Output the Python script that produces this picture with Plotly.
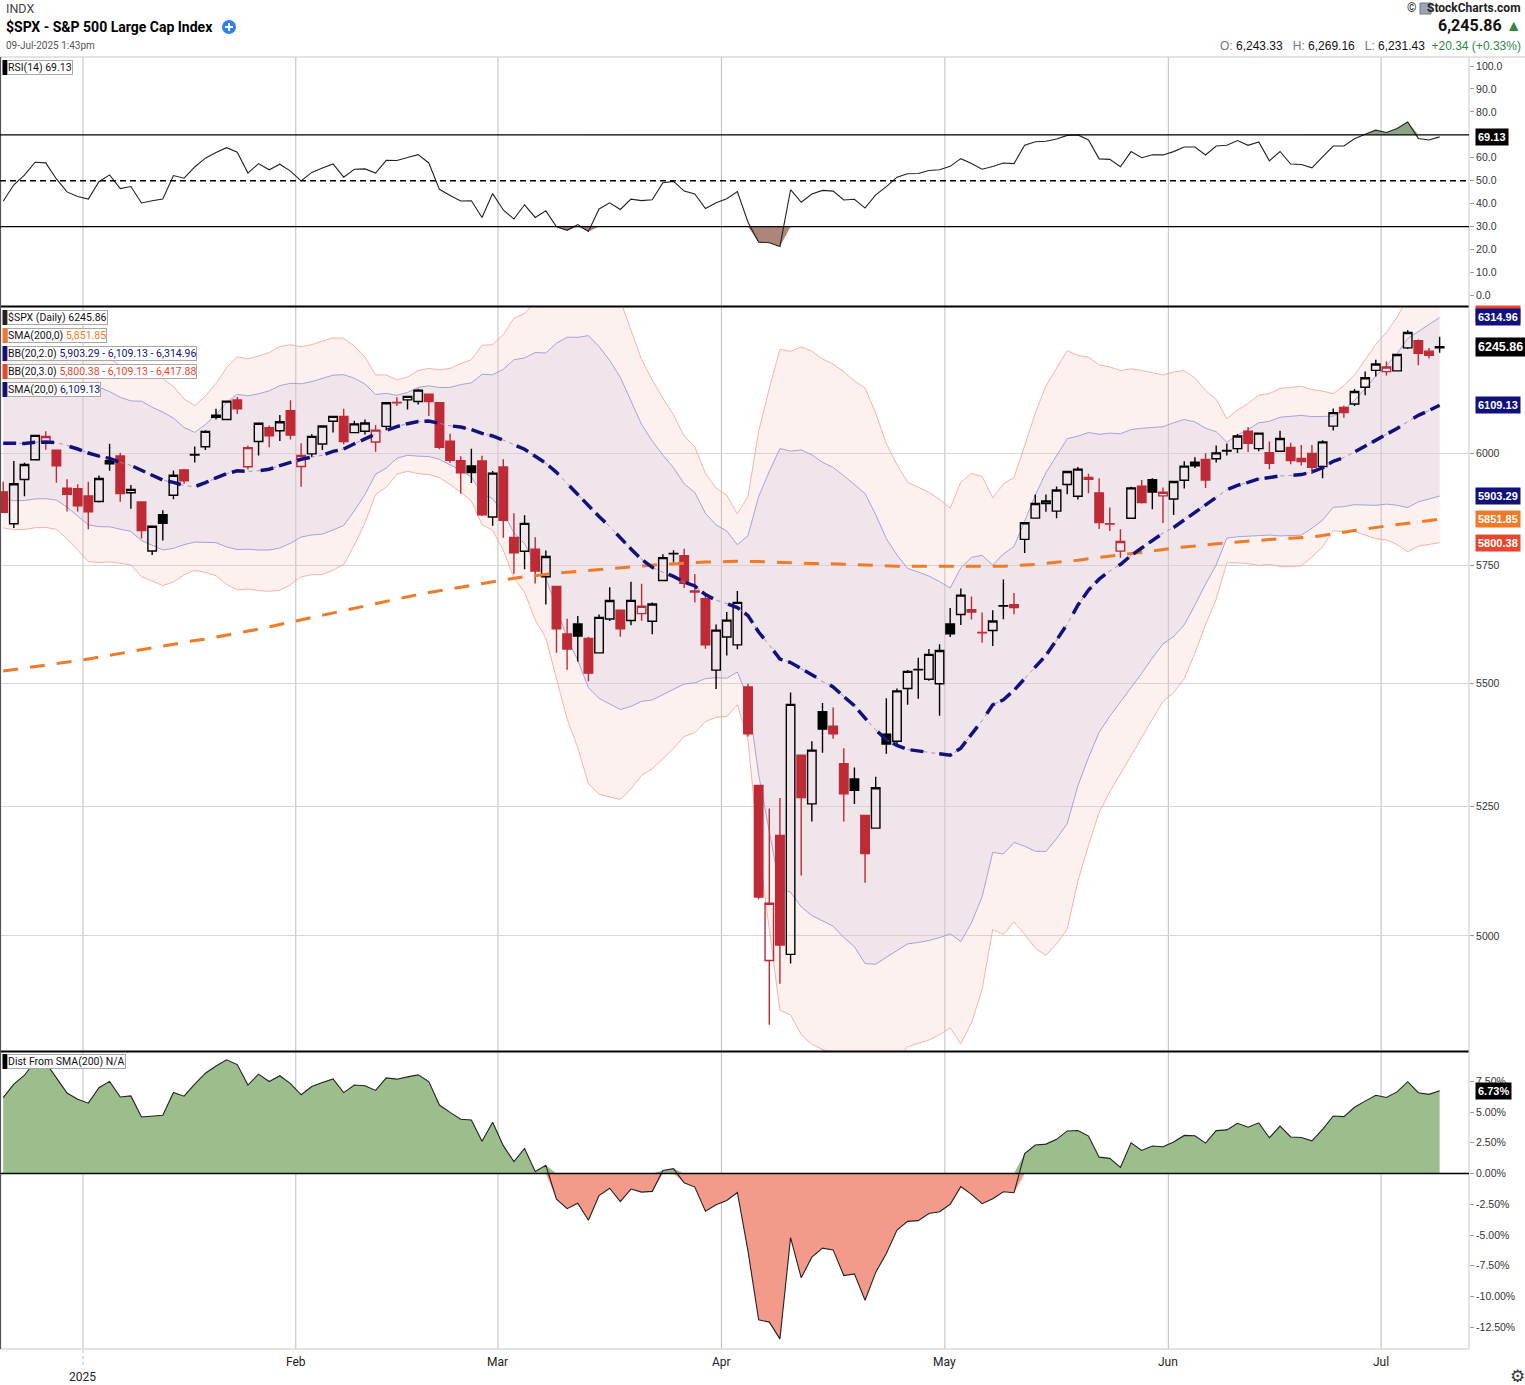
import math
import plotly.graph_objects as go

# ---------------- DATA ----------------
dates = [
    "2024-12-19", "2024-12-20", "2024-12-23", "2024-12-24", "2024-12-26", "2024-12-27", "2024-12-30", "2024-12-31",
    "2025-01-02", "2025-01-03", "2025-01-06", "2025-01-07", "2025-01-08", "2025-01-10", "2025-01-13", "2025-01-14",
    "2025-01-15", "2025-01-16", "2025-01-17", "2025-01-21", "2025-01-22", "2025-01-23", "2025-01-24", "2025-01-27",
    "2025-01-28", "2025-01-29", "2025-01-30", "2025-01-31",
    "2025-02-03", "2025-02-04", "2025-02-05", "2025-02-06", "2025-02-07", "2025-02-10", "2025-02-11", "2025-02-12",
    "2025-02-13", "2025-02-14", "2025-02-18", "2025-02-19", "2025-02-20", "2025-02-21", "2025-02-24", "2025-02-25",
    "2025-02-26", "2025-02-27", "2025-02-28",
    "2025-03-03", "2025-03-04", "2025-03-05", "2025-03-06", "2025-03-07", "2025-03-10", "2025-03-11", "2025-03-12",
    "2025-03-13", "2025-03-14", "2025-03-17", "2025-03-18", "2025-03-19", "2025-03-20", "2025-03-21", "2025-03-24",
    "2025-03-25", "2025-03-26", "2025-03-27", "2025-03-28", "2025-03-31",
    "2025-04-01", "2025-04-02", "2025-04-03", "2025-04-04", "2025-04-07", "2025-04-08", "2025-04-09", "2025-04-10",
    "2025-04-11", "2025-04-14", "2025-04-15", "2025-04-16", "2025-04-17", "2025-04-21", "2025-04-22", "2025-04-23",
    "2025-04-24", "2025-04-25", "2025-04-28", "2025-04-29", "2025-04-30",
    "2025-05-01", "2025-05-02", "2025-05-05", "2025-05-06", "2025-05-07", "2025-05-08", "2025-05-09", "2025-05-12",
    "2025-05-13", "2025-05-14", "2025-05-15", "2025-05-16", "2025-05-19", "2025-05-20", "2025-05-21", "2025-05-22",
    "2025-05-23", "2025-05-27", "2025-05-28", "2025-05-29", "2025-05-30",
    "2025-06-02", "2025-06-03", "2025-06-04", "2025-06-05", "2025-06-06", "2025-06-09", "2025-06-10", "2025-06-11",
    "2025-06-12", "2025-06-13", "2025-06-16", "2025-06-17", "2025-06-18", "2025-06-20", "2025-06-23", "2025-06-24",
    "2025-06-25", "2025-06-26", "2025-06-27", "2025-06-30",
    "2025-07-01", "2025-07-02", "2025-07-03", "2025-07-07", "2025-07-08", "2025-07-09",
]

opens = [
    5912.71, 5842.00, 5940.25, 5984.74, 6024.97, 6006.17, 5920.67, 5919.74,
    5903.26, 5891.07, 5982.81, 5993.26, 5910.66, 5890.02, 5782.23, 5862.00,
    5905.21, 5961.62, 5995.30, 6014.12, 6081.39, 6076.32, 6121.43, 5969.04,
    6026.01, 6057.70, 6050.75, 6096.79,
    5969.65, 5998.14, 6020.45, 6072.22, 6083.13, 6046.40, 6049.32, 6025.08,
    6060.59, 6115.52, 6121.60, 6117.76, 6134.50, 6114.82, 6026.69, 5982.73,
    5970.87, 5981.88, 5856.74,
    5968.33, 5811.98, 5781.39, 5785.87, 5726.01, 5705.37, 5603.65, 5624.84,
    5594.45, 5563.85, 5635.60, 5654.53, 5632.37, 5646.92, 5630.73, 5718.08,
    5775.86, 5771.66, 5695.64, 5679.00, 5527.91,
    5597.53, 5580.76, 5492.74, 5292.14, 4953.79, 5193.57, 4965.28, 5353.15,
    5255.56, 5441.96, 5411.99, 5335.75, 5305.45, 5232.94, 5207.67, 5395.92,
    5381.38, 5489.73, 5529.22, 5508.87, 5499.44,
    5625.14, 5645.03, 5655.32, 5606.26, 5611.00, 5663.08, 5666.00, 5807.48,
    5854.23, 5886.84, 5869.90, 5929.09, 5902.88, 5944.66, 5910.00, 5841.26,
    5781.89, 5854.07, 5925.54, 5939.92, 5903.67,
    5896.68, 5938.56, 5978.94, 5985.67, 5987.06, 6004.60, 6009.91, 6049.38,
    6009.90, 6000.56, 6004.00, 6012.35, 5987.93, 5999.00, 5969.67, 6061.21,
    6104.24, 6112.10, 6150.70, 6190.00,
    6187.25, 6188.88, 6243.00, 6259.75, 6235.26, 6243.33,
]

highs = [
    5935.52, 5982.06, 5978.25, 6040.10, 6049.75, 6006.17, 5940.79, 5929.74,
    5935.09, 5949.34, 6021.04, 6000.68, 5927.89, 5890.30, 5838.03, 5871.92,
    5960.61, 5964.69, 6014.96, 6051.51, 6100.81, 6118.73, 6128.18, 6017.17,
    6069.09, 6062.83, 6086.64, 6120.91,
    6022.13, 6042.48, 6062.86, 6084.03, 6101.28, 6073.38, 6076.28, 6063.65,
    6116.91, 6127.47, 6129.63, 6147.43, 6134.50, 6114.82, 6043.65, 5992.65,
    6009.82, 5993.69, 5959.40,
    5986.09, 5865.08, 5860.59, 5812.08, 5783.01, 5705.37, 5636.30, 5642.19,
    5597.78, 5645.27, 5703.52, 5654.53, 5715.33, 5711.15, 5670.84, 5775.14,
    5783.84, 5786.95, 5732.28, 5685.89, 5623.71,
    5650.57, 5695.31, 5499.53, 5292.14, 5246.68, 5267.47, 5481.34, 5353.15,
    5381.46, 5459.46, 5450.41, 5367.24, 5328.31, 5232.94, 5309.60, 5469.69,
    5489.40, 5528.11, 5553.66, 5571.95, 5581.84,
    5658.91, 5700.70, 5683.59, 5649.53, 5654.01, 5720.10, 5691.04, 5844.19,
    5906.63, 5906.48, 5924.57, 5958.62, 5968.61, 5953.06, 5943.00, 5878.08,
    5829.51, 5924.33, 5939.00, 5943.13, 5922.14,
    5937.40, 5981.35, 5990.48, 5999.70, 6016.87, 6021.31, 6043.01, 6059.40,
    6045.43, 6026.16, 6050.83, 6023.25, 6018.25, 6018.20, 6028.77, 6101.80,
    6108.51, 6146.52, 6187.68, 6215.08,
    6210.78, 6227.60, 6284.65, 6262.72, 6242.70, 6269.16,
]

lows = [
    5866.07, 5832.30, 5902.57, 5983.87, 6007.37, 5932.95, 5869.16, 5868.86,
    5829.53, 5888.66, 5960.01, 5890.68, 5874.78, 5809.43, 5773.31, 5805.28,
    5896.20, 5930.78, 5978.44, 6006.88, 6076.13, 6074.67, 6088.74, 5962.92,
    5994.19, 6012.96, 6027.46, 6030.93,
    5923.93, 5990.87, 6007.06, 6046.83, 6019.96, 6044.84, 6042.34, 6003.00,
    6051.64, 6107.62, 6099.51, 6111.15, 6084.59, 6008.56, 5977.83, 5908.49,
    5932.69, 5858.78, 5837.66,
    5810.91, 5732.59, 5742.35, 5711.64, 5666.29, 5564.02, 5528.41, 5546.09,
    5504.65, 5563.85, 5631.12, 5597.76, 5622.20, 5632.04, 5603.10, 5718.08,
    5757.19, 5701.72, 5670.94, 5572.42, 5488.73,
    5558.52, 5571.48, 5390.83, 5069.90, 4835.04, 4910.42, 4948.43, 5115.27,
    5220.77, 5358.02, 5386.44, 5220.79, 5255.58, 5101.63, 5207.67, 5356.14,
    5371.96, 5455.86, 5468.64, 5505.70, 5433.24,
    5597.35, 5622.71, 5634.48, 5585.25, 5578.64, 5635.22, 5645.50, 5777.59,
    5853.23, 5868.61, 5854.10, 5907.36, 5895.69, 5909.26, 5830.51, 5825.82,
    5767.41, 5854.07, 5886.64, 5873.80, 5843.66,
    5861.43, 5920.35, 5966.11, 5921.20, 5978.63, 5994.18, 6000.26, 6002.32,
    6003.88, 5963.21, 6004.00, 5974.80, 5971.89, 5952.56, 5943.23, 6051.15,
    6080.16, 6107.29, 6132.35, 6175.70,
    6177.97, 6188.29, 6240.00, 6201.82, 6217.98, 6231.43,
]

closes = [
    5867.08, 5930.85, 5974.07, 6040.04, 6037.59, 5970.84, 5906.94, 5881.63,
    5868.55, 5942.47, 5975.38, 5909.03, 5918.25, 5827.04, 5836.22, 5842.91,
    5949.91, 5937.34, 5996.66, 6049.24, 6086.37, 6118.71, 6101.24, 6012.28,
    6067.70, 6039.31, 6071.17, 6040.53,
    5994.57, 6037.88, 6061.48, 6083.57, 6025.99, 6066.44, 6068.50, 6051.97,
    6115.07, 6114.63, 6129.58, 6144.15, 6117.52, 6013.13, 5983.25, 5955.25,
    5956.06, 5861.57, 5954.50,
    5849.72, 5778.15, 5842.63, 5738.52, 5770.20, 5614.56, 5572.07, 5599.30,
    5521.52, 5638.94, 5675.12, 5614.66, 5675.29, 5662.89, 5667.56, 5767.57,
    5776.65, 5712.20, 5693.31, 5580.94, 5611.85,
    5633.07, 5670.97, 5396.52, 5074.08, 5062.25, 4982.77, 5456.90, 5268.05,
    5363.36, 5405.97, 5396.63, 5275.70, 5282.70, 5158.20, 5287.76, 5375.86,
    5484.77, 5525.21, 5528.75, 5560.83, 5569.06,
    5604.14, 5686.67, 5650.38, 5606.91, 5631.28, 5663.94, 5659.91, 5844.19,
    5886.55, 5892.58, 5916.93, 5958.38, 5963.60, 5940.46, 5844.61, 5842.01,
    5802.82, 5921.54, 5888.55, 5912.17, 5911.69,
    5935.94, 5970.37, 5970.81, 5939.30, 6000.36, 6005.88, 6038.81, 6022.24,
    6045.26, 5976.97, 6033.11, 5982.72, 5980.87, 5967.84, 6025.17, 6092.18,
    6092.16, 6141.02, 6173.07, 6204.95,
    6198.01, 6227.42, 6279.35, 6229.98, 6225.52, 6245.86,
]

# closes before the visible window (31-Oct-2024 .. 18-Dec-2024), only used as indicator look-back
warmup_closes = [
    5705.45, 5728.80, 5712.69, 5782.76, 5929.04, 5973.10, 5995.54, 6001.35, 5983.99, 5985.38,
    5949.17, 5870.62, 5893.62, 5916.98, 5917.11, 5948.71, 5969.34, 5987.37, 6021.63, 5998.74,
    6032.38, 6047.15, 6049.88, 6086.49, 6075.11, 6090.27, 6052.85, 6034.91, 6084.19, 6051.25,
    6051.09, 6074.08, 6050.61, 5872.16,
]

# SMA(200), one value per trading day
sma200 = [
    5526, 5529, 5532, 5535, 5538, 5541, 5544, 5547,
    5551, 5555, 5559, 5563, 5567, 5571, 5575, 5579, 5582, 5586, 5590, 5593,
    5597, 5601, 5605, 5609, 5614, 5619, 5624, 5629,
    5634, 5639, 5644, 5649, 5654, 5659, 5664, 5669, 5674, 5679, 5683, 5688,
    5692, 5696, 5700, 5704, 5708, 5712, 5716,
    5720, 5723, 5726, 5729, 5732, 5734, 5736, 5738, 5740, 5742, 5744, 5746,
    5748, 5750, 5751, 5753, 5754, 5756, 5757, 5758, 5758,
    5759, 5760, 5760, 5759, 5758, 5757, 5757, 5756, 5755, 5755, 5754, 5753,
    5752, 5751, 5750, 5750, 5749, 5749, 5749, 5748, 5748,
    5748, 5748, 5748, 5748, 5749, 5749, 5750, 5751, 5753, 5755, 5757, 5759,
    5762, 5765, 5768, 5771, 5774, 5777, 5780, 5783, 5786,
    5788, 5791, 5793, 5796, 5798, 5800, 5802, 5804, 5806, 5808, 5809, 5810,
    5811, 5813, 5816, 5820, 5823, 5827, 5830, 5834,
    5837, 5840, 5843, 5846, 5849, 5851.85,
]

rsi_ticks = [0, 10, 20, 30, 40, 50, 60, 80, 90, 100]
price_ticks = [5000, 5250, 5500, 5750, 6000]
dist_ticks = [-12.5, -10, -7.5, -5, -2.5, 0, 2.5, 5, 7.5]
month_names = {1: "2025", 2: "Feb", 3: "Mar", 4: "Apr", 5: "May", 6: "Jun", 7: "Jul"}

# ---------------- INDICATORS ----------------
N = len(closes)
xs = list(range(N))
allc = warmup_closes + closes
W = len(warmup_closes)

sma20, bbu2, bbl2, bbu3, bbl3 = [], [], [], [], []
for i in range(N):
    win = allc[W + i - 19: W + i + 1]
    m = sum(win) / 20.0
    sd = math.sqrt(sum((v - m) ** 2 for v in win) / 20.0)
    sma20.append(m)
    bbu2.append(m + 2 * sd); bbl2.append(m - 2 * sd)
    bbu3.append(m + 3 * sd); bbl3.append(m - 3 * sd)

chg = [allc[k] - allc[k - 1] for k in range(1, len(allc))]
ag = sum(max(c, 0) for c in chg[:14]) / 14.0
al = sum(max(-c, 0) for c in chg[:14]) / 14.0
rsi_all = [None] * len(allc)
rsi_all[14] = 100 - 100 / (1 + ag / al)
for k in range(14, len(chg)):
    ag = (ag * 13 + max(chg[k], 0)) / 14.0
    al = (al * 13 + max(-chg[k], 0)) / 14.0
    rsi_all[k + 1] = 100 - 100 / (1 + ag / al)
rsi = rsi_all[W:]

dist = [(c / s - 1) * 100 for c, s in zip(closes, sma200)]

prev_close = [warmup_closes[-1]] + closes[:-1]
up_idx = [i for i in range(N) if closes[i] >= prev_close[i]]
dn_idx = [i for i in range(N) if closes[i] < prev_close[i]]

month_starts = [i for i in range(1, N) if dates[i][5:7] != dates[i - 1][5:7]]

# ---------------- GEOMETRY HELPERS ----------------
FW, FH = 1525, 1385
PL, PR, PT, PB = 0, 1469, 57, 1349
XR = [-0.3, 137.76]
PRICE_RANGE = [math.log10(4787.5), math.log10(6340.0)]


def pxx(x):
    return (x - PL) / (PR - PL)


def pyy(y):
    return (PB - y) / (PB - PT)


RED = "#BE2A35"
BLACK = "#000000"
NAVY = "#11117E"
ORANGE = "#F07A28"
RED3 = "#E8462E"
FONT = "Roboto, Liberation Sans, Arial, sans-serif"
AXF = "Liberation Sans, Arial, sans-serif"

fig = go.Figure()

# ---------------- RSI PANEL ----------------
fig.add_trace(go.Scatter(x=xs, y=[70] * N, mode="lines", line=dict(width=0), xaxis="x", yaxis="y",
                         showlegend=False, hoverinfo="skip"))
fig.add_trace(go.Scatter(x=xs, y=[max(v, 70) for v in rsi], mode="lines", line=dict(width=0),
                         fill="tonexty", fillcolor="rgba(120,150,112,0.85)", xaxis="x", yaxis="y",
                         showlegend=False, hoverinfo="skip"))
fig.add_trace(go.Scatter(x=xs, y=[30] * N, mode="lines", line=dict(width=0), xaxis="x", yaxis="y",
                         showlegend=False, hoverinfo="skip"))
fig.add_trace(go.Scatter(x=xs, y=[min(v, 30) for v in rsi], mode="lines", line=dict(width=0),
                         fill="tonexty", fillcolor="rgba(160,112,100,0.85)", xaxis="x", yaxis="y",
                         showlegend=False, hoverinfo="skip"))
fig.add_trace(go.Scatter(x=xs, y=rsi, mode="lines", line=dict(color="#222222", width=1.1),
                         xaxis="x", yaxis="y", showlegend=False, hoverinfo="skip"))

# ---------------- PRICE PANEL: bands (base subplot) ----------------
fig.add_trace(go.Scatter(x=xs, y=bbu3, mode="lines", line=dict(color="rgba(246,170,160,0.9)", width=1),
                         xaxis="x2", yaxis="y2", showlegend=False, hoverinfo="skip"))
fig.add_trace(go.Scatter(x=xs, y=bbl3, mode="lines", line=dict(color="rgba(246,170,160,0.9)", width=1),
                         fill="tonexty", fillcolor="rgba(246,190,182,0.22)",
                         xaxis="x2", yaxis="y2", showlegend=False, hoverinfo="skip"))
fig.add_trace(go.Scatter(x=xs, y=bbu2, mode="lines", line=dict(color="rgba(150,150,210,0.85)", width=1),
                         xaxis="x2", yaxis="y2", showlegend=False, hoverinfo="skip"))
fig.add_trace(go.Scatter(x=xs, y=bbl2, mode="lines", line=dict(color="rgba(150,150,210,0.85)", width=1),
                         fill="tonexty", fillcolor="rgba(215,205,228,0.35)",
                         xaxis="x2", yaxis="y2", showlegend=False, hoverinfo="skip"))


# ---------------- PRICE PANEL: candles (overlay subplot above bands) ----------------
def candles(idx, color):
    return go.Candlestick(
        x=[xs[i] for i in idx], open=[opens[i] for i in idx], high=[highs[i] for i in idx],
        low=[lows[i] for i in idx], close=[closes[i] for i in idx],
        increasing=dict(line=dict(color=color, width=1.4), fillcolor="rgba(0,0,0,0)"),
        decreasing=dict(line=dict(color=color, width=1.4), fillcolor=color),
        whiskerwidth=0, xaxis="x4", yaxis="y4", showlegend=False, hoverinfo="skip")


fig.add_trace(candles(dn_idx, RED))
fig.add_trace(candles(up_idx, BLACK))

# ---------------- PRICE PANEL: moving averages (overlay subplot on top) ----------------
fig.add_trace(go.Scatter(x=xs, y=sma200, mode="lines", line=dict(color=ORANGE, width=3, dash="15px,12px"),
                         xaxis="x5", yaxis="y5", showlegend=False, hoverinfo="skip"))
fig.add_trace(go.Scatter(x=xs, y=sma20, mode="lines",
                         line=dict(color="rgba(170,130,170,0.9)", width=1, dash="4px,4px"),
                         xaxis="x5", yaxis="y5", showlegend=False, hoverinfo="skip"))
fig.add_trace(go.Scatter(x=xs, y=sma20, mode="lines",
                         line=dict(color=NAVY, width=3.5, dash="13px,6px,13px,6px,13px,16px"),
                         xaxis="x5", yaxis="y5", showlegend=False, hoverinfo="skip"))

# ---------------- DIST PANEL ----------------
fig.add_trace(go.Scatter(x=xs, y=[max(v, 0) for v in dist], mode="lines", line=dict(width=0),
                         fill="tozeroy", fillcolor="#9BBE8C", xaxis="x3", yaxis="y3",
                         showlegend=False, hoverinfo="skip"))
fig.add_trace(go.Scatter(x=xs, y=[min(v, 0) for v in dist], mode="lines", line=dict(width=0),
                         fill="tozeroy", fillcolor="#F49A8A", xaxis="x3", yaxis="y3",
                         showlegend=False, hoverinfo="skip"))
fig.add_trace(go.Scatter(x=xs, y=dist, mode="lines", line=dict(color="#222222", width=1.1),
                         xaxis="x3", yaxis="y3", showlegend=False, hoverinfo="skip"))

# ---------------- VALUE TAGS (right side) ----------------
annotations = []
TAGX = XR[1] + 0.42


def tag(xa, ya, yval, text, bg, size=11, log=False):
    fig.add_trace(go.Scatter(x=[TAGX], y=[yval], mode="markers",
                             marker=dict(symbol="triangle-left", size=11, color=bg, line=dict(width=0)),
                             cliponaxis=False, xaxis=xa, yaxis=ya, showlegend=False, hoverinfo="skip"))
    annotations.append(dict(xref="paper", yref=ya, x=pxx(1475), y=(math.log10(yval) if log else yval),
                            xanchor="left", yanchor="middle", showarrow=False,
                            text="<b>%s</b>" % text, bgcolor=bg, borderpad=2,
                            font=dict(family=AXF, size=size, color="white")))


tag("x", "y", rsi[-1], "%.2f" % rsi[-1], "#000000", 11)
annotations.append(dict(xref="paper", yref="paper", x=pxx(1475), y=pyy(314), xanchor="left", yanchor="middle",
                        showarrow=False, text="<b>%.2f</b>" % bbu3[-1], bgcolor=RED3, borderpad=2,
                        font=dict(family=AXF, size=11, color="white")))
tag("x2", "y2", bbu2[-1], "%.2f" % bbu2[-1], NAVY, 11, True)
tag("x2", "y2", closes[-1], "%.2f" % closes[-1], "#000000", 12.5, True)
tag("x2", "y2", sma20[-1], "%.2f" % sma20[-1], NAVY, 11, True)
tag("x2", "y2", bbl2[-1], "%.2f" % bbl2[-1], NAVY, 11, True)
tag("x2", "y2", sma200[-1], "%.2f" % sma200[-1], ORANGE, 11, True)
tag("x2", "y2", bbl3[-1], "%.2f" % bbl3[-1], RED3, 11, True)
tag("x3", "y3", dist[-1], "%.2f%%" % dist[-1], "#000000", 11)

# ---------------- SHAPES ----------------
shapes = []
for i in month_starts:
    shapes.append(dict(type="line", xref="x", yref="paper", x0=i - 0.5, x1=i - 0.5, y0=0, y1=1,
                       line=dict(color="#BDBDBD", width=1), layer="below"))
shapes.append(dict(type="line", xref="paper", yref="paper", x0=0, x1=1, y0=pyy(306.5), y1=pyy(306.5),
                   line=dict(color="#000000", width=2.2)))
shapes.append(dict(type="line", xref="paper", yref="paper", x0=0, x1=1, y0=pyy(1051.5), y1=pyy(1051.5),
                   line=dict(color="#000000", width=2.2)))
shapes.append(dict(type="line", xref="paper", yref="paper", x0=0, x1=FW / PR, y0=pyy(57), y1=pyy(57),
                   line=dict(color="#C8C8C8", width=1)))
shapes.append(dict(type="line", xref="paper", yref="paper", x0=0, x1=1, y0=0, y1=0,
                   line=dict(color="#C8C8C8", width=1)))
shapes.append(dict(type="line", xref="paper", yref="paper", x0=1, x1=1, y0=0, y1=1,
                   line=dict(color="#C8C8C8", width=1)))
shapes.append(dict(type="line", xref="paper", yref="paper", x0=pxx(0.5), x1=pxx(0.5), y0=0, y1=1,
                   line=dict(color="#555555", width=1.2)))
for lvl, dsh in ((70, "solid"), (30, "solid"), (50, "6px,4px")):
    shapes.append(dict(type="line", xref="paper", yref="y", x0=0, x1=1, y0=lvl, y1=lvl,
                       line=dict(color="#000000", width=1.3, dash=dsh)))
shapes.append(dict(type="line", xref="paper", yref="y3", x0=0, x1=1, y0=0, y1=0,
                   line=dict(color="#000000", width=1.4)))
jan = month_starts[0] - 0.5
shapes.append(dict(type="line", xref="x", yref="paper", x0=jan, x1=jan, y0=pyy(1350), y1=pyy(1368),
                   line=dict(color="#BDBDBD", width=1, dash="dot")))


# ---------------- LEGEND BOXES ----------------
def legend_box(top, text, barcolor):
    shapes.append(dict(type="rect", xref="paper", yref="paper", x0=pxx(2.5), x1=pxx(7), y0=pyy(top + 15),
                       y1=pyy(top), fillcolor=barcolor, line=dict(width=0)))
    annotations.append(dict(xref="paper", yref="paper", x=pxx(7), y=pyy(top), xanchor="left", yanchor="top",
                            showarrow=False, text=text, bgcolor="rgba(255,255,255,0.92)",
                            bordercolor="#A8A8A8", borderwidth=1, borderpad=0,
                            font=dict(family=FONT, size=10.5, color="#111111")))


def c(col, s):
    return "<span style='color:%s'>%s</span>" % (col, s)


legend_box(60, "RSI(14) %.2f" % rsi[-1], "#000000")
legend_box(310, "$SPX (Daily) %.2f" % closes[-1], "#222222")
legend_box(328, "SMA(200,0) " + c(ORANGE, "{:,.2f}".format(sma200[-1])), ORANGE)
legend_box(346, "BB(20,2.0) " + c(NAVY, "{:,.2f} - {:,.2f} - {:,.2f}".format(bbl2[-1], sma20[-1], bbu2[-1])), NAVY)
legend_box(364, "BB(20,3.0) " + c(RED3, "{:,.2f} - {:,.2f} - {:,.2f}".format(bbl3[-1], sma20[-1], bbu3[-1])), RED3)
legend_box(382, "SMA(20,0) " + c(NAVY, "{:,.2f}".format(sma20[-1])), NAVY)
legend_box(1054, "Dist From SMA(200) N/A", "#000000")


# ---------------- HEADER ----------------
def txt(x, y, s, size, color="#111111", xanchor="left", family=FONT, yanchor="middle"):
    annotations.append(dict(xref="paper", yref="paper", x=pxx(x), y=pyy(y), xanchor=xanchor, yanchor=yanchor,
                            showarrow=False, text=s, font=dict(family=family, size=size, color=color)))


txt(4, 8, "INDX", 12.5, "#444444")
txt(4, 27, "<b>$SPX - S&amp;P 500 Large Cap Index</b>", 14, "#000000")
txt(4, 46, "09-Jul-2025 1:43pm", 10, "#555555")
shapes.append(dict(type="circle", xref="paper", yref="paper", x0=pxx(222), x1=pxx(236), y0=pyy(34),
                   y1=pyy(20), fillcolor="#2F80ED", line=dict(width=0)))
shapes.append(dict(type="line", xref="paper", yref="paper", x0=pxx(225), x1=pxx(233), y0=pyy(27),
                   y1=pyy(27), line=dict(color="white", width=2)))
shapes.append(dict(type="line", xref="paper", yref="paper", x0=pxx(229), x1=pxx(229), y0=pyy(23),
                   y1=pyy(31), line=dict(color="white", width=2)))

txt(1523, 8, "<b>StockCharts.com</b>", 12, "#222222", "right")
shapes.append(dict(type="rect", xref="paper", yref="paper", x0=pxx(1420), x1=pxx(1431), y0=pyy(14),
                   y1=pyy(3), fillcolor="#9AA5B1", line=dict(color="#6B7785", width=1)))
txt(1418, 8, "©", 12, "#222222", "right")
txt(1523, 26, "<b>6,245.86</b> " + c("#2E8B3E", "▲"), 16, "#111111", "right")
txt(1523, 46,
    c("#777777", "O:") + " 6,243.33&nbsp;&nbsp;&nbsp;" + c("#777777", "H:") + " 6,269.16&nbsp;&nbsp;&nbsp;"
    + c("#777777", "L:") + " 6,231.43&nbsp;&nbsp;" + c("#2E8B3E", "+20.34 (+0.33%)"),
    12, "#111111", "right", AXF)

# ---------------- X LABELS ----------------
for i in month_starts:
    m = int(dates[i][5:7])
    annotations.append(dict(xref="x", yref="paper", x=i - 0.5, y=pyy(1377 if m == 1 else 1362),
                            xanchor="center", yanchor="middle", showarrow=False, text=month_names[m],
                            font=dict(family=FONT, size=12, color="#222222")))
txt(1517, 1376, "⚙", 17, "#333333", "center", "DejaVu Sans")

# ---------------- LAYOUT ----------------
axis_common = dict(range=XR, showgrid=False, zeroline=False, showticklabels=False, showline=False,
                   fixedrange=True)
tickfont = dict(family=AXF, size=10.5, color="#333333")
fig.update_layout(
    width=FW, height=FH,
    margin=dict(l=PL, r=FW - PR, t=PT, b=FH - PB),
    paper_bgcolor="white", plot_bgcolor="white",
    showlegend=False,
    boxgap=0.2, boxgroupgap=0, boxmode="overlay",
    xaxis=dict(anchor="y", domain=[0, 1], **axis_common),
    xaxis2=dict(anchor="y2", domain=[0, 1], **axis_common),
    xaxis3=dict(anchor="y3", domain=[0, 1], **axis_common),
    xaxis4=dict(anchor="y4", overlaying="x2", rangeslider=dict(visible=False), visible=False, **axis_common),
    xaxis5=dict(anchor="y5", overlaying="x2", visible=False, **axis_common),
    yaxis=dict(domain=[pyy(306), pyy(57)], range=[-4.58, 103.92], anchor="x", side="right",
               tickvals=rsi_ticks, ticktext=["%.1f" % v for v in rsi_ticks], ticks="outside",
               ticklen=4, tickcolor="#999999", showgrid=False, zeroline=False, tickfont=tickfont),
    yaxis2=dict(domain=[pyy(1051), pyy(307)], type="log", range=PRICE_RANGE, anchor="x2", side="right",
                tickvals=price_ticks, ticktext=[str(v) for v in price_ticks], ticks="outside",
                ticklen=4, tickcolor="#999999", showgrid=True, gridcolor="#D6D6D6", gridwidth=1,
                zeroline=False, tickfont=tickfont),
    yaxis3=dict(domain=[0, pyy(1052)], range=[-14.27, 9.88], anchor="x3", side="right",
                tickvals=dist_ticks, ticktext=["%.2f%%" % v for v in dist_ticks], ticks="outside",
                ticklen=4, tickcolor="#999999", showgrid=False, zeroline=False, tickfont=tickfont),
    yaxis4=dict(overlaying="y2", type="log", range=PRICE_RANGE, anchor="x4", visible=False,
                showgrid=False, zeroline=False),
    yaxis5=dict(overlaying="y2", type="log", range=PRICE_RANGE, anchor="x5", visible=False,
                showgrid=False, zeroline=False),
    shapes=shapes,
    annotations=annotations,
)

fig.write_html("out.html", config={"displayModeBar": False},
               post_script="document.body.style.margin='0';document.body.style.padding='0';")
